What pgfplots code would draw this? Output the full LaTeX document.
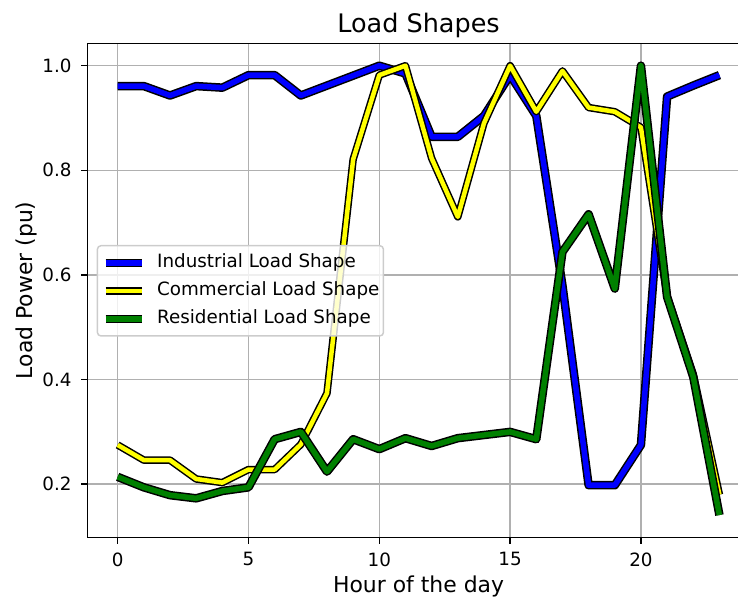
\documentclass[border=0pt]{standalone}
\usepackage{pgfplots}
\pgfplotsset{compat=1.18}
\usepackage{fontspec}
\setmainfont{DejaVu Sans}
\definecolor{gridgray}{HTML}{B0B0B0}
\definecolor{legframe}{HTML}{CCCCCC}
\definecolor{mplgreen}{HTML}{008000}
\definecolor{mplyellow}{HTML}{FFFF00}
\definecolor{mplblue}{HTML}{0000FF}
\begin{document}
\begin{tikzpicture}[x=1pt,y=1pt]
\useasboundingbox (0,0) rectangle (738,597);
\clip (0,0) rectangle (738,597);
\begin{axis}[
  at={(87.6pt,59.7pt)}, anchor=south west,
  scale only axis, width=661.9pt, height=494pt,
  xmin=-1.15, xmax=24.15, ymin=0.0985, ymax=1.0428,
  xtick={0,5,10,15,20}, ytick={0.2,0.4,0.6,0.8,1.0},
  /pgf/number format/assume math mode=true,
  yticklabel style={/pgf/number format/fixed, /pgf/number format/fixed zerofill, /pgf/number format/precision=1},
  ticklabel style={font=\fontsize{18.3}{22}\selectfont, inner sep=0pt},
  xticklabel style={anchor=north, yshift=-8.6pt},
  yticklabel style={anchor=east, xshift=-9.5pt},
  tick align=outside, xtick pos=left, ytick pos=left,
  major tick length=6.4pt,
  tick style={black, line width=1.46pt},
  axis line style={black, line width=1.46pt},
  grid=major,
  major grid style={gridgray, line width=1.46pt},
  every axis title shift=0pt,
  title={Load Shapes},
  title style={at={(axis description cs:0.5,1)}, anchor=base, yshift=11pt, font=\fontsize{25.5}{30}\selectfont, inner sep=0pt},
  xlabel={Hour of the day},
  xlabel style={at={(axis description cs:0.5,0)}, anchor=base, yshift=-55pt, font=\fontsize{21.9}{26}\selectfont, inner sep=0pt},
  ylabel={Load Power (pu)},
  ylabel style={at={(axis description cs:-0.08355,0.5)}, anchor=base, font=\fontsize{21.9}{26}\selectfont, inner sep=0pt},
  legend image code/.code={\draw[#1] (0pt,0pt) -- (36.6pt,0pt);},
  legend cell align=left,
  legend style={at={(0.01375,0.5917)}, anchor=north west, draw=legframe, line width=1.46pt,
    rounded corners=3.5pt, fill=white, fill opacity=0.8, text opacity=1,
    font=\fontsize{18.3}{22}\selectfont, inner xsep=4pt, inner ysep=8pt,
    row sep=9.8pt, column sep=10.6pt,
    nodes={inner sep=0pt, text height=13.9pt, text depth=4.3pt}},
]
\addplot[mplblue, line width=5.5pt, line join=round, preaction={draw=black, line width=8.5pt}] coordinates {
(0,0.961) (1,0.961) (2,0.943) (3,0.961) (4,0.958) (5,0.982) (6,0.982) (7,0.943)
(8,0.962) (9,0.981) (10,1.0) (11,0.985) (12,0.864) (13,0.864) (14,0.904) (15,0.982)
(16,0.904) (17,0.58) (18,0.198) (19,0.198) (20,0.275) (21,0.941) (22,0.962) (23,0.982)};
\addplot[mplyellow, line width=4.5pt, line join=round, preaction={draw=black, line width=7.5pt}] coordinates {
(0,0.275) (1,0.246) (2,0.246) (3,0.210) (4,0.203) (5,0.228) (6,0.228) (7,0.276)
(8,0.374) (9,0.821) (10,0.982) (11,1.0) (12,0.823) (13,0.711) (14,0.890) (15,1.0)
(16,0.912) (17,0.99) (18,0.920) (19,0.912) (20,0.882) (21,0.56) (22,0.41) (23,0.18)};
\addplot[mplgreen, line width=5.5pt, line join=round, preaction={draw=black, line width=8.5pt}] coordinates {
(0,0.214) (1,0.194) (2,0.179) (3,0.173) (4,0.187) (5,0.194) (6,0.286) (7,0.300)
(8,0.224) (9,0.286) (10,0.267) (11,0.288) (12,0.273) (13,0.288) (14,0.294) (15,0.300)
(16,0.286) (17,0.644) (18,0.716) (19,0.574) (20,1.0) (21,0.558) (22,0.405) (23,0.141)};
\legend{Industrial Load Shape, Commercial Load Shape, Residential Load Shape}
\end{axis}
\end{tikzpicture}
\end{document}
